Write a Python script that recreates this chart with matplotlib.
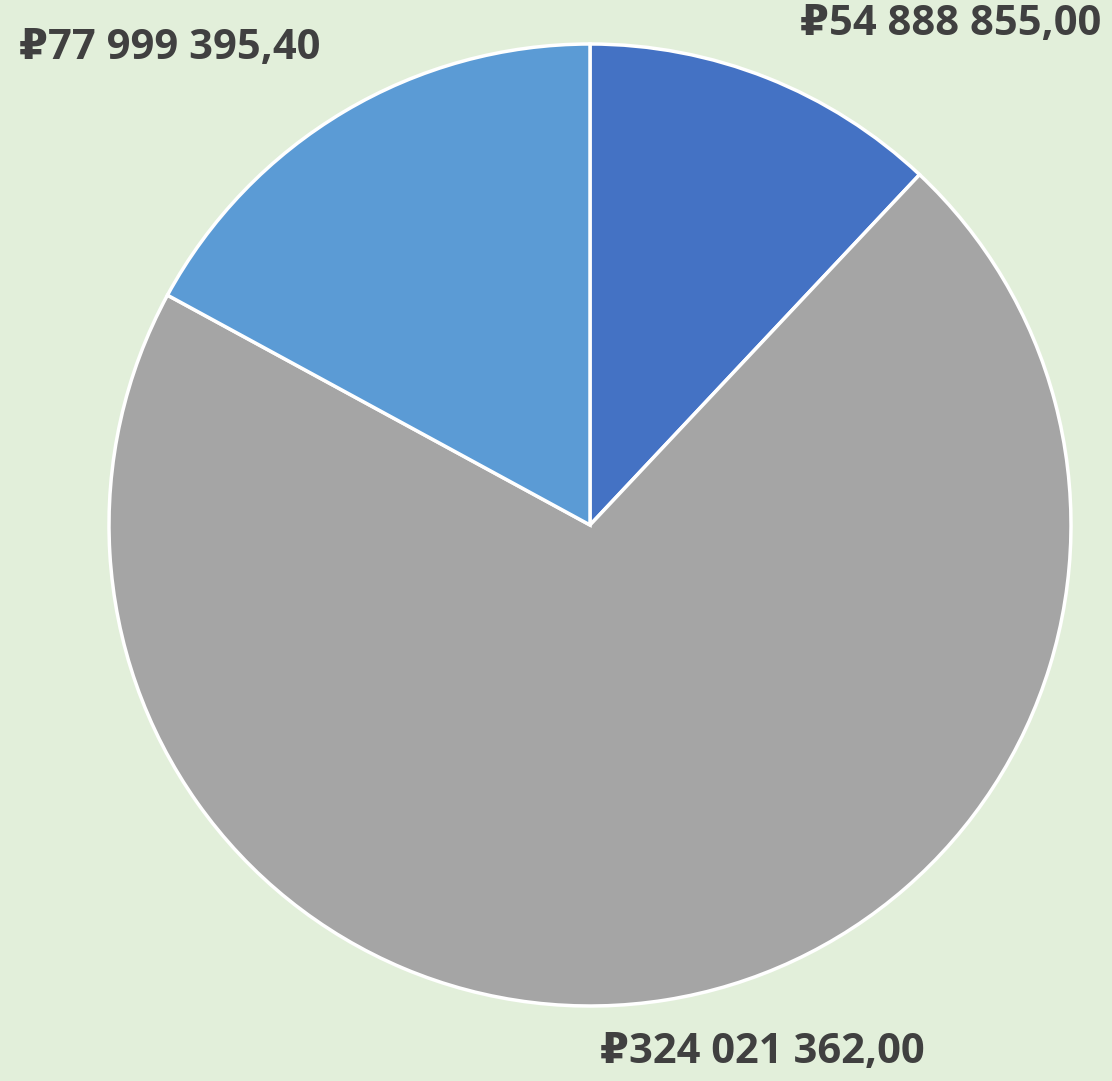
import matplotlib
matplotlib.use("Agg")
import matplotlib.pyplot as plt

# slice values in roubles, clockwise from 12 o'clock
values = [54888855.00, 324021362.00, 77999395.40]
labels = ["₽54 888 855,00", "₽324 021 362,00", "₽77 999 395,40"]
colors = ["#4472C4", "#A5A5A5", "#5B9BD5"]

W, H = 1112, 1081
CX, CY, R = 590, 525, 481  # pie centre / radius in pixels

fig = plt.figure(figsize=(W / 100, H / 100), dpi=100)
fig.patch.set_facecolor("#E2EFDA")
ax = fig.add_axes([0, 0, 1, 1])
ax.set_facecolor("#E2EFDA")

wedges, texts = ax.pie(
    values, labels=labels, colors=colors, startangle=90, counterclock=False,
    radius=1.0, wedgeprops=dict(edgecolor="white", linewidth=2.5),
    textprops=dict(fontsize=30, fontweight="bold", color="#404040",
                   family=["Open Sans", "DejaVu Sans"]),
)
# pie resets the limits, so map data units to pixels afterwards
ax.set_aspect("auto")
ax.set_xlim(-CX / R, (W - CX) / R)
ax.set_ylim(-(H - CY) / R, CY / R)
ax.axis("off")

# label centres in pixels (Excel "outside end" placement)
label_px = [(951, 24), (762, 1053), (170, 49)]
for t, (px, py) in zip(texts, label_px):
    t.set_position(((px - CX) / R, (CY - py) / R))
    t.set_ha("center")
    t.set_va("center")

fig.savefig("out.png", dpi=100, facecolor=fig.get_facecolor())
